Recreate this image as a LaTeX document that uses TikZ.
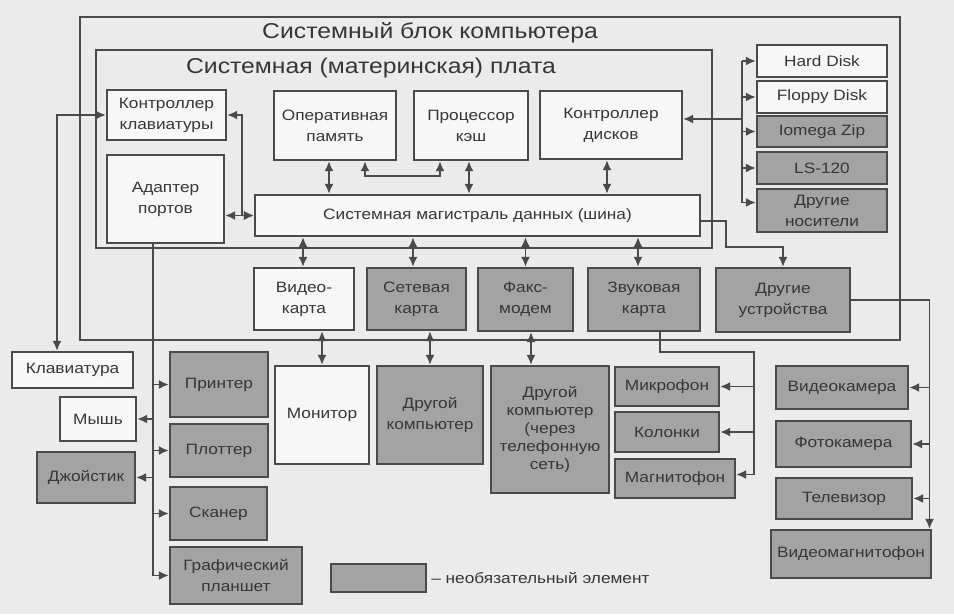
\documentclass[tikz,border=0pt]{standalone}
\usepackage{fontspec}
\setmainfont{Liberation Sans}[FakeStretch=1.15]
\usetikzlibrary{arrows.meta,calc}
\definecolor{bgc}{HTML}{EBEBEB}
\definecolor{wfill}{HTML}{F7F7F7}
\definecolor{gfill}{HTML}{A3A3A3}
\definecolor{ln}{HTML}{4A4A4A}
\definecolor{txt}{HTML}{363636}
\tikzset{
  every node/.style={font=\fontsize{15}{21}\selectfont, text=txt},
  frame/.style={draw=ln, line width=2.3pt, inner sep=0pt},
  wbox/.style={draw=ln, line width=2.3pt, fill=wfill, align=center, inner sep=0pt},
  gbox/.style={wbox, fill=gfill},
  ttl/.style={font=\fontsize{21.5}{25}\selectfont, inner sep=0pt},
  conn/.style={draw=ln, line width=1.8pt},
  bi/.style={conn, {Latex[length=10pt,width=9pt]}-{Latex[length=10pt,width=9pt]}},
  uni/.style={conn, -{Latex[length=10pt,width=9pt]}},
}
\begin{document}
\begin{tikzpicture}[x=1pt,y=-1pt]
\fill[bgc] (0,0) rectangle (954,614);
\useasboundingbox (0,0) rectangle (954,614);

% frames
\node[frame, minimum width=820pt, minimum height=323pt] (unit) at (490,178.5) {};
\node[frame, minimum width=616pt, minimum height=198pt] (mb) at (404,149) {};
\node[ttl] (tunit) at (430,33) {Системный блок компьютера};
\node[ttl] (tmb) at (371,68) {Системная (материнская) плата};

% motherboard
\node[wbox, minimum width=119pt, minimum height=50pt] (kbc) at (166.5,115) {Контроллер\\клавиатуры};
\node[wbox, minimum width=117pt, minimum height=88pt] (ports) at (165.5,199) {Адаптер\\портов};
\node[wbox, minimum width=122pt, minimum height=69pt] (ram) at (335,125.5) {Оперативная\\память};
\node[wbox, minimum width=114pt, minimum height=69pt] (cpu) at (471,125.5) {Процессор\\кэш};
\node[wbox, minimum width=142pt, minimum height=68pt] (dc) at (611,125) {Контроллер\\дисков};
\node[wbox, minimum width=445pt, minimum height=41pt] (bus) at (477.5,215.5) {Системная магистраль данных (шина)};

% storage
\node[wbox, minimum width=130pt, minimum height=32pt] (hd) at (822,61) {Hard Disk};
\node[wbox, minimum width=130pt, minimum height=32pt] (fd) at (822,97) {Floppy Disk};
\node[gbox, minimum width=130pt, minimum height=31pt] (zip) at (822,131.5) {Iomega Zip};
\node[gbox, minimum width=130pt, minimum height=32pt] (ls) at (822,168) {LS-120};
\node[gbox, minimum width=130pt, minimum height=43pt] (om) at (822,210.5) {Другие\\носители};

% cards
\node[wbox, minimum width=100pt, minimum height=62pt] (vc) at (304,299) {Видео-\\карта};
\node[gbox, minimum width=99pt, minimum height=62pt] (nc) at (416.5,299) {Сетевая\\карта};
\node[gbox, minimum width=95pt, minimum height=63pt] (fm) at (525.5,299.5) {Факс-\\модем};
\node[gbox, minimum width=112pt, minimum height=63pt] (sc) at (644,299.5) {Звуковая\\карта};
\node[gbox, minimum width=134pt, minimum height=64pt] (od) at (783,300) {Другие\\устройства};

% peripherals left
\node[wbox, minimum width=121pt, minimum height=36pt] (kb) at (72.5,370) {Клавиатура};
\node[wbox, minimum width=76pt, minimum height=44pt] (mouse) at (98,419) {Мышь};
\node[gbox, minimum width=98pt, minimum height=51pt] (joy) at (86,477.5) {Джойстик};
\node[gbox, minimum width=98pt, minimum height=65pt] (pr) at (219,384.5) {Принтер};
\node[gbox, minimum width=98pt, minimum height=53pt] (pl) at (219,450.5) {Плоттер};
\node[gbox, minimum width=97pt, minimum height=53pt] (sca) at (218.5,513.5) {Сканер};
\node[gbox, minimum width=132pt, minimum height=57pt] (tab) at (236,575.5) {Графический\\планшет};

% peripherals middle
\node[wbox, minimum width=94pt, minimum height=98pt] (mon) at (322,415) {Монитор};
\node[gbox, minimum width=106pt, minimum height=98pt] (oc) at (430,415) {Другой\\компьютер};
\node[gbox, minimum width=118pt, minimum height=127pt, font=\fontsize{15}{18}\selectfont] (oct) at (550,429.5) {Другой\\компьютер\\(через\\телефонную\\сеть)};
\node[gbox, minimum width=104pt, minimum height=39pt] (mic) at (667,386.5) {Микрофон};
\node[gbox, minimum width=104pt, minimum height=40pt] (spk) at (667,432) {Колонки};
\node[gbox, minimum width=120pt, minimum height=39pt] (tape) at (675,478.5) {Магнитофон};

% peripherals right
\node[gbox, minimum width=132pt, minimum height=43pt] (cam) at (842,387.5) {Видеокамера};
\node[gbox, minimum width=135pt, minimum height=46pt] (photo) at (843.5,444) {Фотокамера};
\node[gbox, minimum width=136pt, minimum height=41pt] (tv) at (844,498.5) {Телевизор};
\node[gbox, minimum width=160pt, minimum height=48pt] (vcr) at (851,554) {Видеомагнитофон};

% legend
\node[gbox, minimum width=95pt, minimum height=28pt] (leg) at (378.5,578) {};
\node[anchor=west, inner sep=4pt] (legt) at (leg.east) {– необязательный элемент};

% ---- connectors ----
\coordinate (kbx) at (57,0);
\draw[bi] (kbc.west) -| (kb.north -| kbx);
\draw[bi] (kbc.east) -- ++(15,0) |- (bus.west);
\draw[bi] (ports.east |- bus.west) -- (bus.west);

\draw[bi] ([xshift=-6pt]ram.south) -- ([xshift=-6pt]ram.south |- bus.north);
\draw[bi] ([xshift=30pt]ram.south) -- ++(0,15) -| ([xshift=-31pt]cpu.south);
\draw[bi] ([xshift=-2pt]cpu.south) -- ([xshift=-2pt]cpu.south |- bus.north);
\draw[bi] ([xshift=-4pt]dc.south) -- ([xshift=-4pt]dc.south |- bus.north);

% storage bus
\coordinate (sb) at (742,0);
\draw[uni] ([yshift=6pt]dc.east -| sb) -- ([yshift=6pt]dc.east);
\draw[conn] (sb |- hd.west) -- ([yshift=8pt]sb |- om.west);
\foreach \n in {hd,fd,zip,ls} \draw[uni] (sb |- \n.west) -- (\n.west);
\draw[uni] ([yshift=8pt]sb |- om.west) -- ([yshift=8pt]om.west);

% bus to cards
\draw[bi] ([xshift=-1pt]vc.north |- bus.south) -- ([xshift=-1pt]vc.north);
\draw[bi] ([xshift=-3.5pt]nc.north |- bus.south) -- ([xshift=-3.5pt]nc.north);
\draw[bi] (fm.north |- bus.south) -- (fm.north);
\draw[bi] ([xshift=-6pt]sc.north |- bus.south) -- ([xshift=-6pt]sc.north);
\draw[uni] ([yshift=-5.5pt]bus.east) -- ++(25,0) |- ([yshift=20pt]od.north) -- (od.north);

% cards to devices
\draw[bi] (mon.north |- vc.south) -- (mon.north);
\draw[bi] (oc.north |- nc.south) -- (oc.north);
\draw[bi] ([xshift=5.5pt]fm.south) -- ([xshift=5.5pt]fm.south |- oct.north);

% audio
\coordinate (au) at (754,352);
\draw[conn] ([xshift=16pt]sc.south) |- (au) -- ([yshift=4pt]au |- tape.east);
\draw[uni] (au |- mic.east) -- (mic.east);
\draw[uni] (au |- spk.east) -- (spk.east);
\draw[uni] ([yshift=4pt]au |- tape.east) -- ([yshift=4pt]tape.east);

% other devices
\coordinate (rv) at (929.5,0);
\draw[uni] (od.east) -| (rv |- vcr.north);
\foreach \n in {cam,photo,tv} \draw[uni] (rv |- \n.east) -- (\n.east);

% ports bus
\coordinate (pb) at (153,0);
\draw[conn] ([xshift=-12.5pt]ports.south) -- (pb |- tab.west);
\foreach \n in {pr,pl,sca,tab} \draw[uni] (pb |- \n.west) -- (\n.west);
\foreach \n in {mouse,joy} \draw[uni] (pb |- \n.east) -- (\n.east);
\end{tikzpicture}
\end{document}
